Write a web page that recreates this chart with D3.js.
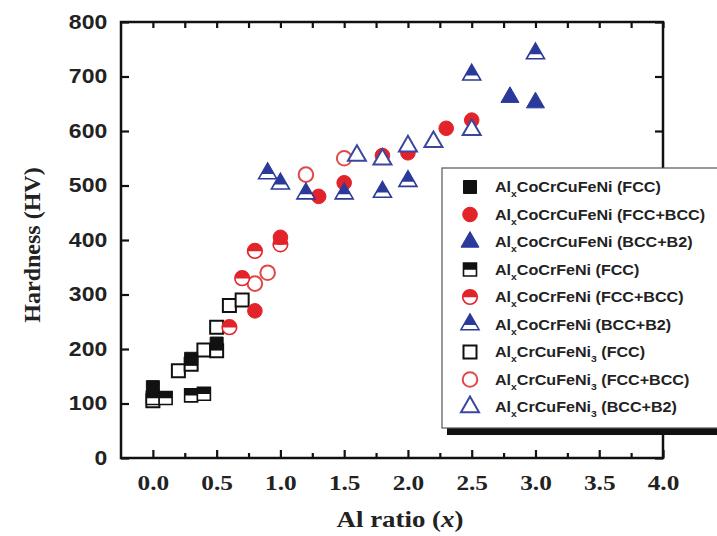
<!DOCTYPE html>
<html>
<head>
<meta charset="utf-8">
<script src="https://cdn.jsdelivr.net/npm/d3@7"></script>
<style>
  body { margin: 0; background: #fff; }
  svg { display: block; }
</style>
</head>
<body>
<div class="container"></div>
<script>
// hardness data per alloy series
const s1X = [0, 0.3, 0.5];
const s1V = [130, 182, 210];
const s2X = [0.8, 1.0, 1.3, 1.5, 1.8, 2.0, 2.3, 2.5];
const s2V = [270, 405, 480, 505, 555, 560, 605, 620];
const s3X = [2.8, 3.0];
const s3V = [662, 652];
const s4X = [0, 0.1, 0.3, 0.4];
const s4V = [110, 110, 115, 118];
const s5X = [0.6, 0.7, 0.8, 1.0];
const s5V = [240, 330, 380, 392];
const s6X = [0.9, 1.0, 1.2, 1.5, 1.8, 2.0, 2.5, 3.0];
const s6V = [522, 503, 485, 485, 488, 508, 703, 742];
const s7X = [0, 0.2, 0.3, 0.4, 0.5, 0.5, 0.6, 0.7];
const s7V = [105, 160, 172, 198, 197, 240, 280, 290];
const s8X = [0.8, 0.9, 1.2, 1.5];
const s8V = [320, 340, 520, 550];
const s9X = [1.6, 1.8, 2.0, 2.2, 2.5];
const s9V = [555, 548, 572, 580, 602];

const xTicks = [0, 0.5, 1.0, 1.5, 2.0, 2.5, 3.0, 3.5, 4.0];
const xMinor = [0.25, 0.75, 1.25, 1.75, 2.25, 2.75, 3.25, 3.75];
const yTicks = [0, 100, 200, 300, 400, 500, 600, 700, 800];

const RED = '#e2232a', BLUE = '#2b3a9a', BLACK = '#111';

// legend rows: alloy base, subscript after Ni, phase label
const legendBase = ['CoCrCuFeNi', 'CoCrCuFeNi', 'CoCrCuFeNi', 'CoCrFeNi', 'CoCrFeNi', 'CoCrFeNi', 'CrCuFeNi', 'CrCuFeNi', 'CrCuFeNi'];
const legendSub = ['', '', '', '', '', '', '3', '3', '3'];
const legendPhase = ['(FCC)', '(FCC+BCC)', '(BCC+B2)', '(FCC)', '(FCC+BCC)', '(BCC+B2)', '(FCC)', '(FCC+BCC)', '(BCC+B2)'];

const series = [
  {xs: s1X, vs: s1V, shape: 'square', style: 'fill', color: BLACK},
  {xs: s2X, vs: s2V, shape: 'circle', style: 'fill', color: RED},
  {xs: s3X, vs: s3V, shape: 'triangle', style: 'fill', color: BLUE},
  {xs: s4X, vs: s4V, shape: 'square', style: 'half', color: BLACK},
  {xs: s5X, vs: s5V, shape: 'circle', style: 'half', color: RED},
  {xs: s6X, vs: s6V, shape: 'triangle', style: 'half', color: BLUE},
  {xs: s7X, vs: s7V, shape: 'square', style: 'open', color: BLACK},
  {xs: s8X, vs: s8V, shape: 'circle', style: 'open', color: '#e04848'},
  {xs: s9X, vs: s9V, shape: 'triangle', style: 'open', color: '#3b479f'}
];
// draw order so overlaps stack like the picture
const drawOrder = [6, 3, 0, 7, 4, 1, 5, 2, 8];

const W = 717, H = 536;
const svg = d3.select('.container').append('svg')
  .attr('width', W).attr('height', H);
svg.append('rect').attr('width', W).attr('height', H).attr('fill', '#fff');

const defs = svg.append('defs');
defs.append('clipPath').attr('id', 'topHalf')
  .attr('clipPathUnits', 'objectBoundingBox')
  .append('rect').attr('x', -0.2).attr('y', -0.2).attr('width', 1.4).attr('height', 0.72);
defs.append('clipPath').attr('id', 'topTri')
  .attr('clipPathUnits', 'objectBoundingBox')
  .append('rect').attr('x', -0.2).attr('y', -0.2).attr('width', 1.4).attr('height', 0.9);

const x = d3.scaleLinear().domain([-0.25, 4.0]).range([121, 663]);
const y = d3.scaleLinear().domain([0, 800]).range([458, 22]);

const symType = {square: d3.symbolSquare, circle: d3.symbolCircle, triangle: d3.symbolTriangle};
const symSize = {square: 13 * 13, circle: Math.PI * 7.3 * 7.3, triangle: Math.sqrt(3) / 4 * 18 * 18};

function drawMarker(g, shape, style, color, px, py) {
  const d = d3.symbol().type(symType[shape]).size(symSize[shape])();
  const m = g.append('g').attr('transform', `translate(${px},${py})`);
  if (style === 'fill') {
    m.append('path').attr('d', d).attr('fill', color).attr('stroke', color).attr('stroke-width', 1);
  } else if (style === 'open') {
    m.append('path').attr('d', d).attr('fill', '#fff').attr('stroke', color).attr('stroke-width', 2);
  } else {
    const clip = shape === 'triangle' ? 'url(#topTri)' : 'url(#topHalf)';
    m.append('path').attr('d', d).attr('fill', '#fff');
    m.append('path').attr('d', d).attr('fill', color).attr('clip-path', clip);
    m.append('path').attr('d', d).attr('fill', 'none').attr('stroke', color).attr('stroke-width', 1.6);
  }
}

// frame
svg.append('rect')
  .attr('x', x(-0.25)).attr('y', y(800))
  .attr('width', x(4.0) - x(-0.25)).attr('height', y(0) - y(800))
  .attr('fill', 'none').attr('stroke', '#111').attr('stroke-width', 2.5);

// bottom axis
const xAxis = svg.append('g').attr('transform', `translate(0,${y(0)})`)
  .call(d3.axisBottom(x).tickValues(xTicks).tickSize(-8).tickSizeOuter(0).tickPadding(16)
    .tickFormat(d3.format('.1f')));
svg.append('g').attr('transform', `translate(0,${y(0)})`)
  .call(d3.axisBottom(x).tickValues(xMinor).tickSize(-5).tickSizeOuter(0).tickFormat(''));
// top axis ticks
svg.append('g').attr('transform', `translate(0,${y(800)})`)
  .call(d3.axisTop(x).tickValues(xTicks.concat(xMinor)).tickSize(-6).tickSizeOuter(0).tickFormat(''));
// left axis
const yAxis = svg.append('g').attr('transform', `translate(${x(-0.25)},0)`)
  .call(d3.axisLeft(y).tickValues(yTicks).tickSize(-8).tickSizeOuter(0).tickPadding(12));
// right axis ticks
svg.append('g').attr('transform', `translate(${x(4.0)},0)`)
  .call(d3.axisRight(y).tickValues(yTicks).tickSize(-8).tickSizeOuter(0).tickFormat(''));

svg.selectAll('.domain').remove();
svg.selectAll('.tick line').attr('stroke', '#111').attr('stroke-width', 2.2);

xAxis.selectAll('text')
  .attr('font-family', '"Liberation Serif", "Times New Roman", serif')
  .attr('font-weight', 'bold').attr('font-size', 22).attr('fill', '#222')
  .attr('transform', 'scale(1.15,1)');
yAxis.selectAll('text')
  .attr('font-family', '"Liberation Sans", Arial, sans-serif')
  .attr('font-weight', 'bold').attr('font-size', 20).attr('fill', '#222')
  .attr('transform', 'scale(1.15,1)');

// axis titles
const xt = svg.append('text')
  .attr('transform', 'translate(400,527) scale(1.12,1)')
  .attr('text-anchor', 'middle')
  .attr('font-family', '"Liberation Serif", "Times New Roman", serif')
  .attr('font-weight', 'bold').attr('font-size', 24).attr('fill', '#222');
xt.append('tspan').text('Al ratio (');
xt.append('tspan').attr('font-style', 'italic').text('x');
xt.append('tspan').text(')');

svg.append('text')
  .attr('transform', 'translate(40,245) rotate(-90)')
  .attr('text-anchor', 'middle')
  .attr('font-family', '"Liberation Serif", "Times New Roman", serif')
  .attr('font-weight', 'bold').attr('font-size', 24).attr('fill', '#222')
  .text('Hardness (HV)');

// data points
const plot = svg.append('g');
drawOrder.forEach(function(i) {
  const s = series[i];
  s.xs.forEach(function(xv, j) {
    drawMarker(plot, s.shape, s.style, s.color, x(xv), y(s.vs[j]));
  });
});

// legend with shadow
const lg = svg.append('g');
lg.append('rect').attr('x', 447).attr('y', 173).attr('width', 300).attr('height', 262).attr('fill', '#111');
lg.append('rect').attr('x', 442).attr('y', 168).attr('width', 300).attr('height', 260)
  .attr('fill', '#fff').attr('stroke', '#555').attr('stroke-width', 1.2);

series.forEach(function(s, i) {
  const ry = 187 + i * 27.5;
  drawMarker(lg, s.shape, s.style, s.color, 470, ry);
  const t = lg.append('text')
    .attr('transform', `translate(495,${ry + 5}) scale(1.15,1)`)
    .attr('font-family', '"Liberation Sans", Arial, sans-serif')
    .attr('font-weight', 'bold').attr('font-size', 14).attr('fill', '#222');
  t.append('tspan').text('Al');
  t.append('tspan').attr('font-size', 9).attr('dy', 5).text('x');
  t.append('tspan').attr('dy', -5).text(legendBase[i]);
  if (legendSub[i]) {
    t.append('tspan').attr('font-size', 9).attr('dy', 5).text(legendSub[i]);
    t.append('tspan').attr('dy', -5).text(' ' + legendPhase[i]);
  } else {
    t.append('tspan').text(' ' + legendPhase[i]);
  }
});
</script>
</body>
</html>
